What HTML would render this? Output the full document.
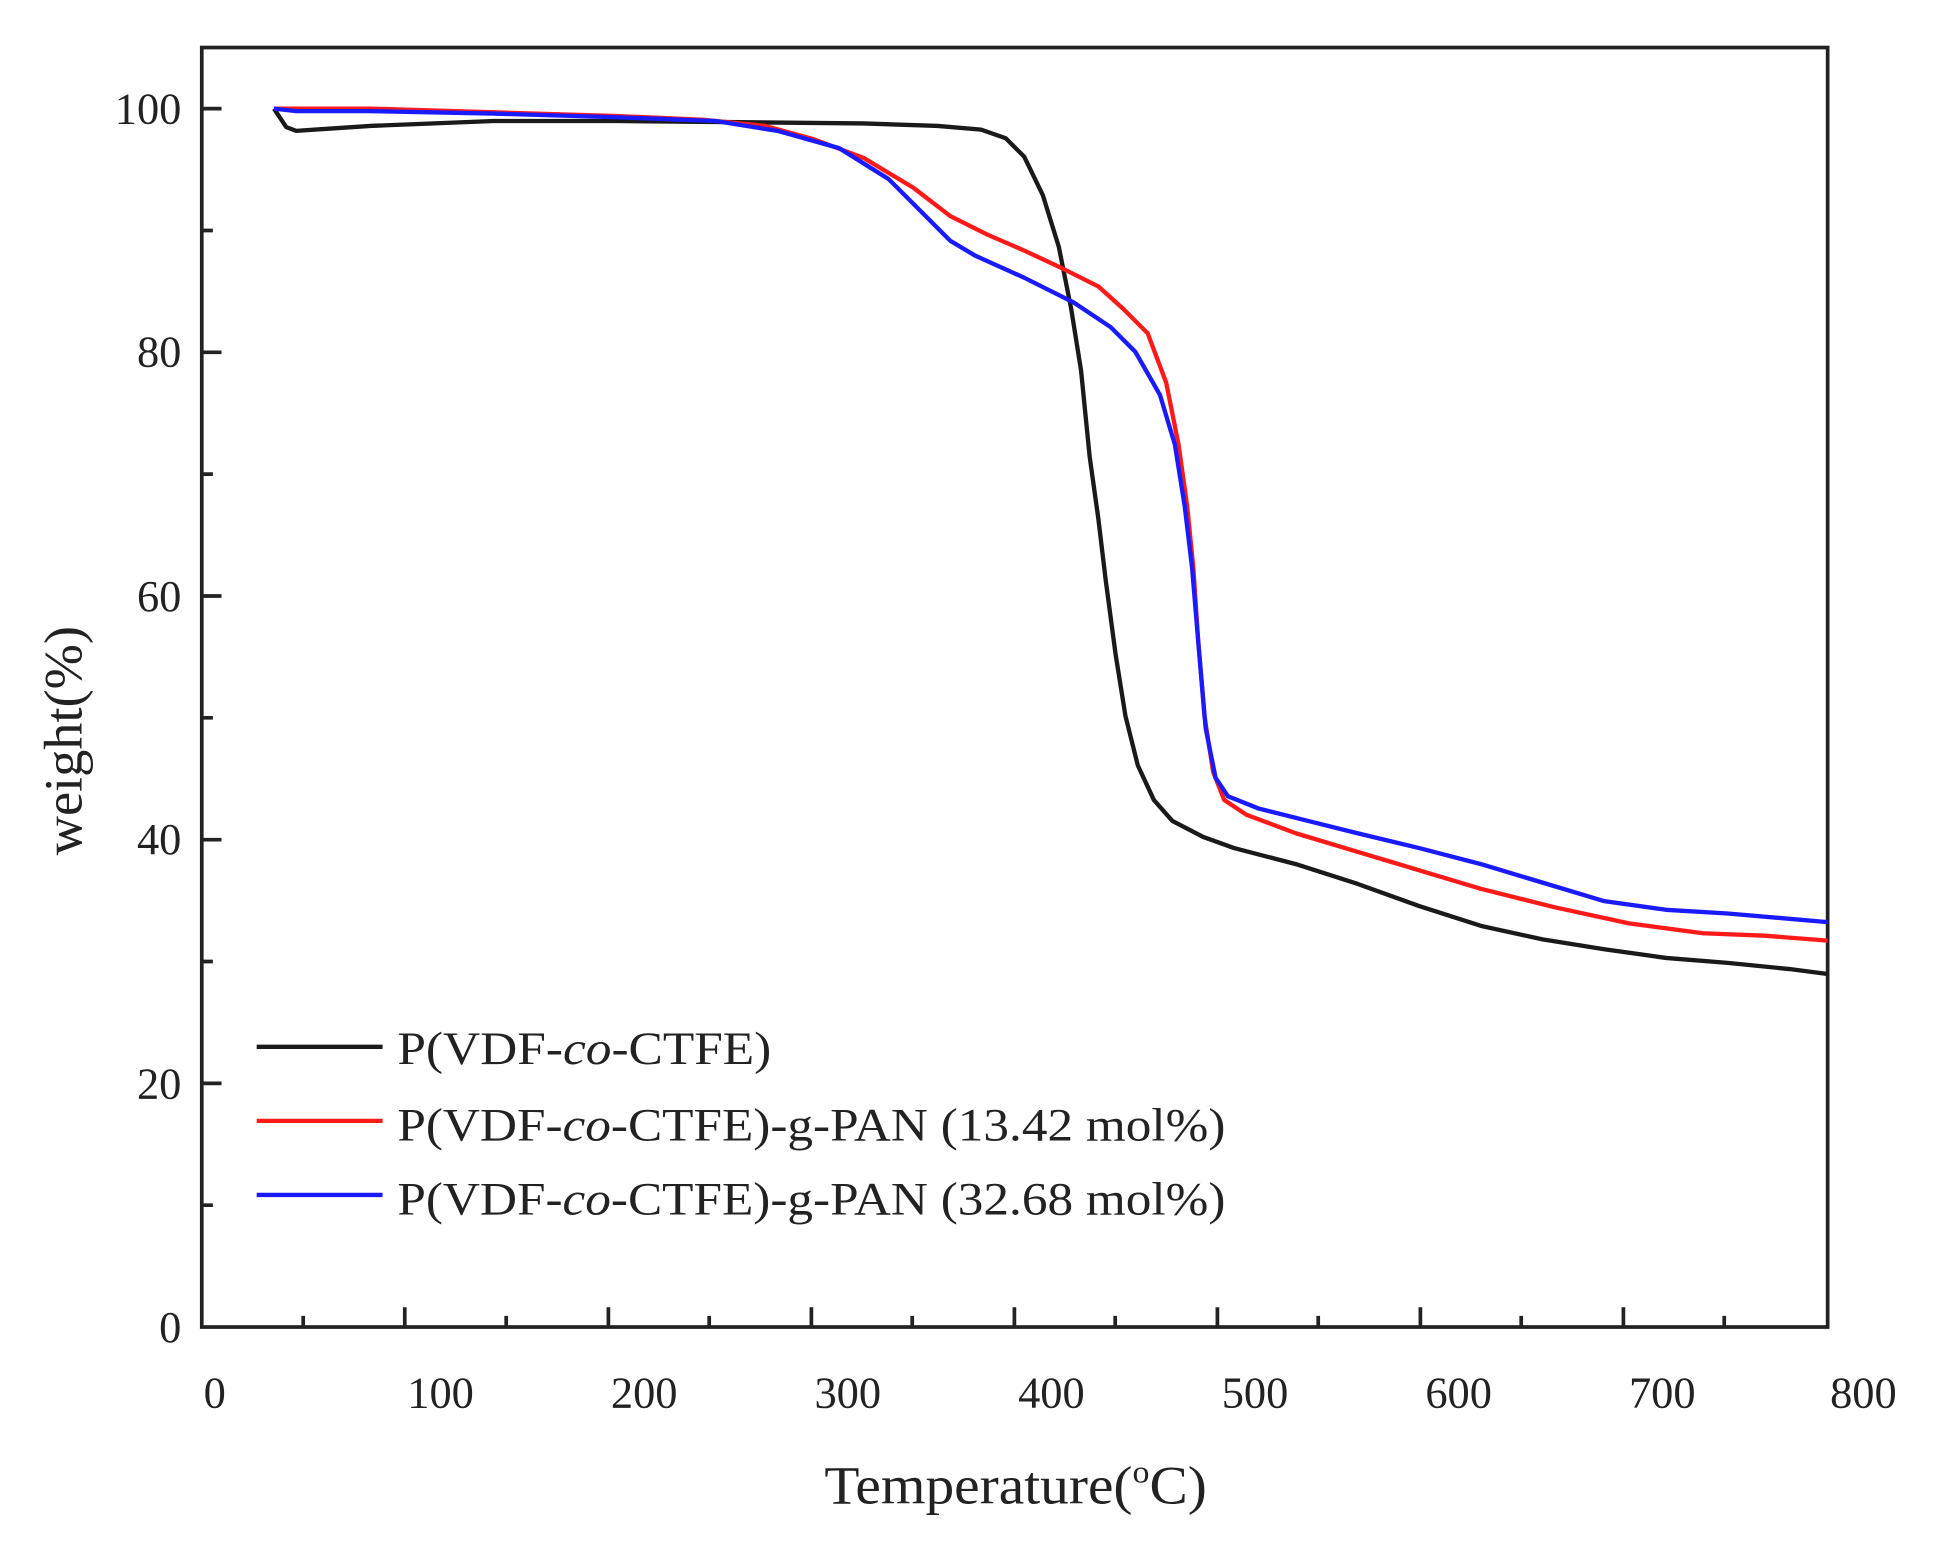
<!DOCTYPE html>
<html><head><style>html,body{margin:0;padding:0;background:#fff}svg{display:block}</style></head>
<body>
<svg width="1935" height="1548" viewBox="0 0 1568 1254" preserveAspectRatio="none" xmlns="http://www.w3.org/2000/svg" font-family="Liberation Serif, serif" fill="#222">
<rect width="1568" height="1254" fill="#fff"/>
<g stroke="#222" stroke-width="3" fill="none">
<rect x="163.5" y="38.5" width="1317.5" height="1036.5"/>
<path d="M328,1075v-16M493,1075v-16M657.5,1075v-16M822,1075v-16M986.5,1075v-16M1151,1075v-16M1315.5,1075v-16
M245.7,1075v-9M410.2,1075v-9M574.7,1075v-9M739.2,1075v-9M903.7,1075v-9M1068.2,1075v-9M1232.7,1075v-9M1397.2,1075v-9
M163.5,88h16M163.5,285.4h16M163.5,482.8h16M163.5,680.2h16M163.5,877.6h16
M163.5,186.7h9M163.5,384.1h9M163.5,581.5h9M163.5,778.9h9M163.5,976.3h9"/>
</g>
<g font-size="36" text-anchor="end">
<text x="147" y="100">100</text><text x="147" y="297">80</text><text x="147" y="495">60</text><text x="147" y="692">40</text><text x="147" y="890">20</text><text x="147" y="1087">0</text>
</g>
<g font-size="36" text-anchor="middle">
<text x="174" y="1140">0</text><text x="357" y="1140">100</text><text x="522" y="1140">200</text><text x="687" y="1140">300</text><text x="852" y="1140">400</text><text x="1017" y="1140">500</text><text x="1182" y="1140">600</text><text x="1347" y="1140">700</text><text x="1510" y="1140">800</text>
</g>
<text x="668" y="1218" font-size="44" textLength="310" lengthAdjust="spacingAndGlyphs">Temperature(<tspan font-size="26" dy="-17">o</tspan><tspan dy="17">C)</tspan></text>
<text transform="translate(66,600) rotate(-90)" font-size="44" text-anchor="middle">weight(%)</text>
<g fill="none" stroke-width="3.5" stroke-linejoin="round">
<path stroke="#1a1a1a" d="M222,88 L232,103 L240,106 L300,102 L400,98 L500,98 L600,99 L700,100 L760,102 L795,105 L815,112 L830,127 L845,158 L858,200 L868,250 L876,300 L883,370 L890,420 L896,470 L904,530 L912,580 L922,620 L935,648 L950,665 L975,678 L1000,687 L1050,700 L1100,716 L1150,734 L1200,750 L1250,761 L1300,769 L1350,776 L1400,780 L1450,785 L1481,789"/>
<path stroke="#ff1a1a" d="M222,88 L300,88 L400,91 L500,94 L570,97 L620,102 L660,113 L700,128 L740,152 L770,175 L800,190 L830,203 L860,217 L890,232 L910,250 L930,270 L945,310 L955,360 L962,410 L967,460 L971,520 L976,580 L983,625 L992,648 L1010,660 L1050,675 L1100,690 L1150,705 L1200,720 L1260,735 L1320,748 L1380,756 L1430,758 L1481,762"/>
<path stroke="#1a1aff" d="M222,88 L240,90 L300,90 L400,92 L500,95 L580,98 L630,106 L680,120 L720,145 L750,175 L770,195 L790,207 L830,225 L870,245 L900,265 L920,285 L940,320 L952,360 L960,410 L966,460 L971,520 L977,590 L985,630 L995,645 L1020,655 L1060,665 L1100,675 L1150,687 L1200,700 L1250,715 L1300,730 L1350,737 L1400,740 L1481,747"/>
<path stroke="#1a1a1a" d="M208,848H310"/>
<path stroke="#ff1a1a" d="M208,908H310"/>
<path stroke="#1a1aff" d="M208,968H310"/>
</g>
<g font-size="38">
<text x="322" y="862" textLength="303" lengthAdjust="spacingAndGlyphs">P(VDF-<tspan font-style="italic">co</tspan>-CTFE)</text>
<text x="322" y="924" textLength="671" lengthAdjust="spacingAndGlyphs">P(VDF-<tspan font-style="italic">co</tspan>-CTFE)-g-PAN (13.42 mol%)</text>
<text x="322" y="984" textLength="671" lengthAdjust="spacingAndGlyphs">P(VDF-<tspan font-style="italic">co</tspan>-CTFE)-g-PAN (32.68 mol%)</text>
</g>
</svg>
</body></html>
